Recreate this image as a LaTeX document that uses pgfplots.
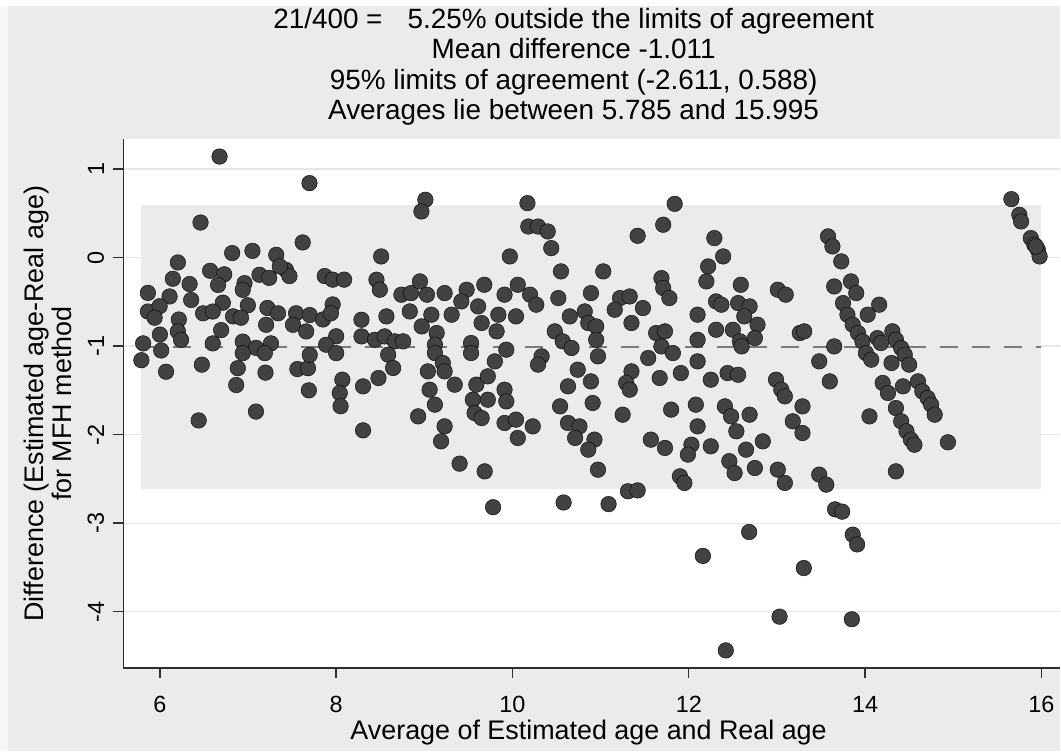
\documentclass[border=0pt]{standalone}
\usepackage{pgfplots}
\pgfplotsset{compat=1.18}
\usepackage{fontspec}
\setmainfont{Liberation Sans}
\definecolor{bgc}{HTML}{EBEBEB}
\definecolor{bandc}{HTML}{EBEBEB}
\definecolor{gridc}{HTML}{E6E6E6}
\definecolor{axc}{HTML}{2E2E2E}
\definecolor{dotc}{HTML}{424242}
\definecolor{dashc}{HTML}{7A7A7A}
\begin{document}
\begin{tikzpicture}[x=1bp,y=1bp]
\fill[bgc] (0,0) rectangle (1061,752);
\fill[white] (0,746) rectangle (1061,752);
\fill[white!60!bgc] (0,0) rectangle (8,746);
\begin{axis}[
  at={(123.3bp,83.7bp)}, anchor=south west, scale only axis,
  width=937.7bp, height=529bp,
  xmin=5.584, xmax=16.215, ymin=-4.634, ymax=1.336,
  axis x line*=bottom, axis y line*=left,
  axis line style={draw=axc, line width=1.4bp, -},
  axis background/.style={fill=white},
  xtick={6,8,10,12,14,16}, xticklabels={6,8,10,12,14,16},
  ytick={-4,-3,-2,-1,0,1}, yticklabels={-4,-3,-2,-1,0,1},
  tick align=outside, major tick length=10bp,
  tick style={draw=axc, line width=1.4bp},
  ymajorgrids, grid style={draw=gridc, line width=1.2bp},
  ticklabel style={font=\fontsize{23.5}{28}\selectfont, text=black},
  yticklabel style={rotate=90, anchor=south, inner sep=0pt},
  xticklabel style={anchor=north, inner sep=0pt},
  xticklabel shift=18bp, yticklabel shift=9bp,
]
\addplot[draw=none, fill=bandc] coordinates {(5.785,-2.611) (15.995,-2.611) (15.995,0.588) (5.785,0.588)} -- cycle;
\addplot[dashc, line width=2bp, dash pattern=on 18bp off 14bp] coordinates {(5.785,-1.011) (15.995,-1.011)};
\addplot[only marks, mark=*, mark size=7.8bp, mark options={fill=dotc, draw=none}] coordinates {
(6.677,1.14) (7.697,0.84) (6.461,0.395) (7.62,0.17) (6.82,0.05) (7.05,0.075) (6.204,-0.056) (7.32,0.03)
(6.57,-0.15) (6.73,-0.19) (6.147,-0.24) (6.337,-0.30) (6.66,-0.31) (6.96,-0.29) (7.13,-0.195) (7.24,-0.23)
(7.43,-0.14) (7.47,-0.21) (7.36,-0.10) (7.87,-0.21) (7.96,-0.25) (8.09,-0.25) (5.864,-0.40) (6.11,-0.44)
(6.355,-0.48) (6.94,-0.365) (6.714,-0.51) (6.998,-0.54) (5.864,-0.61) (5.997,-0.55) (5.94,-0.68) (6.49,-0.63)
(6.60,-0.61) (6.215,-0.70) (6.83,-0.665) (6.92,-0.68) (7.22,-0.57) (7.34,-0.63) (7.205,-0.76) (7.545,-0.63)
(7.70,-0.65) (7.51,-0.76) (7.66,-0.835) (7.85,-0.70) (7.96,-0.53) (7.94,-0.63) (6.204,-0.835) (6.00,-0.87)
(6.695,-0.82) (6.24,-0.93) (5.81,-0.97) (6.60,-0.97) (6.94,-0.95) (7.09,-1.02) (7.26,-0.97) (6.94,-1.08)
(7.19,-1.08) (8.00,-0.89) (7.886,-0.985) (8.00,-1.08) (6.015,-1.05) (5.79,-1.16) (6.07,-1.29) (6.476,-1.21)
(6.884,-1.25) (7.198,-1.30) (7.56,-1.26) (7.68,-1.25) (7.70,-1.10) (6.866,-1.44) (7.69,-1.50) (8.07,-1.38)
(8.04,-1.53) (8.05,-1.68) (7.09,-1.74) (6.44,-1.84)
(9.012,0.652) (8.967,0.52) (10.17,0.614) (11.84,0.606) (11.71,0.37) (11.42,0.245) (10.18,0.35) (10.29,0.35)
(10.40,0.294) (10.44,0.106) (9.97,0.012) (8.51,0.012) (10.55,-0.157) (11.03,-0.157) (8.457,-0.251) (8.495,-0.364)
(8.74,-0.42) (8.85,-0.402) (8.95,-0.27) (9.03,-0.42) (9.23,-0.402) (9.48,-0.364) (9.68,-0.308) (9.42,-0.496)
(9.61,-0.552) (9.91,-0.42) (10.06,-0.308) (10.20,-0.42) (10.27,-0.533) (10.52,-0.458) (10.89,-0.402) (11.22,-0.458)
(11.33,-0.44) (11.16,-0.59) (11.48,-0.571) (11.69,-0.233) (11.71,-0.345) (11.78,-0.458) (12.10,-0.646) (8.287,-0.703)
(8.57,-0.665) (8.835,-0.609) (9.08,-0.646) (8.97,-0.778) (9.31,-0.646) (9.65,-0.74) (9.84,-0.646) (9.82,-0.834)
(10.04,-0.665) (10.65,-0.665) (10.82,-0.609) (10.86,-0.74) (10.95,-0.778) (11.35,-0.74) (8.287,-0.891) (8.44,-0.929)
(8.55,-0.891) (8.665,-0.947) (8.76,-0.947) (9.14,-0.853) (9.12,-0.985) (9.53,-0.966) (10.48,-0.834) (10.57,-0.947)
(10.67,-1.022) (10.95,-0.929) (11.63,-0.853) (11.73,-0.834) (11.69,-1.004) (11.82,-1.079) (12.10,-0.929) (8.59,-1.098)
(9.12,-1.079) (9.53,-1.079) (9.93,-1.041) (10.33,-1.116) (10.97,-1.116) (11.54,-1.135) (8.646,-1.248) (9.21,-1.192)
(9.23,-1.286) (9.80,-1.173) (10.29,-1.21) (10.74,-1.267) (12.10,-1.173) (8.305,-1.455) (8.48,-1.361) (9.04,-1.286)
(9.345,-1.436) (9.59,-1.436) (9.72,-1.342) (10.63,-1.455) (10.89,-1.399) (11.35,-1.286) (11.29,-1.417) (11.33,-1.493)
(11.67,-1.361) (11.91,-1.305) (9.06,-1.493) (9.55,-1.606) (9.72,-1.606) (9.91,-1.493) (9.93,-1.625) (9.12,-1.662)
(10.54,-1.681) (10.91,-1.643) (12.08,-1.662) (8.93,-1.794) (9.57,-1.756) (9.65,-1.813) (9.23,-1.907) (9.91,-1.869)
(10.04,-1.831) (10.23,-1.907) (10.63,-1.869) (10.76,-1.907) (11.25,-1.775) (11.80,-1.718) (8.305,-1.952) (9.19,-2.076)
(10.06,-2.038) (10.71,-2.038) (10.93,-2.057) (10.86,-2.17) (11.57,-2.057) (11.73,-2.151) (12.03,-2.114) (11.99,-2.226)
(9.40,-2.328) (9.685,-2.415) (10.97,-2.396) (11.90,-2.471) (11.95,-2.546) (11.31,-2.64) (11.42,-2.63)
(12.29,0.219) (12.39,0.012) (12.22,-0.101) (12.20,-0.27) (12.31,-0.496) (12.37,-0.533) (12.59,-0.308) (12.56,-0.515)
(12.69,-0.552) (12.63,-0.665) (12.78,-0.759) (12.75,-0.91) (12.50,-0.816) (12.58,-0.947) (12.60,-1.004) (12.31,-0.816)
(12.25,-1.38) (12.44,-1.305) (12.56,-1.324) (12.10,-1.907) (12.41,-1.681) (12.48,-1.794) (12.54,-1.963) (12.69,-1.775)
(12.25,-2.132) (12.46,-2.30) (12.52,-2.434) (12.65,-2.17) (12.75,-2.377) (12.84,-2.076) (13.01,-0.364) (13.10,-0.42)
(13.26,-0.853) (13.31,-0.834) (12.99,-1.38) (13.05,-1.493) (13.09,-1.568) (13.29,-1.681) (13.18,-1.85) (13.29,-1.982)
(13.01,-2.396) (13.09,-2.546) (13.48,-2.452) (13.56,-2.565) (13.58,0.238) (13.63,0.125) (13.73,-0.044) (13.65,-0.327)
(13.84,-0.27) (13.90,-0.402) (13.75,-0.515) (13.80,-0.646) (13.86,-0.759) (13.92,-0.853) (13.97,-0.947) (14.03,-0.646)
(14.16,-0.533) (13.65,-1.004) (13.48,-1.173) (13.60,-1.399) (14.01,-1.079) (14.07,-1.154) (14.14,-0.91) (14.18,-0.966)
(14.31,-0.834) (14.35,-0.929) (14.41,-1.023) (14.45,-1.098) (14.50,-1.21) (14.30,-1.192) (14.20,-1.417) (14.26,-1.53)
(14.43,-1.455) (14.60,-1.399) (14.65,-1.512) (14.71,-1.587) (14.75,-1.662) (14.79,-1.775) (14.05,-1.794) (14.35,-1.70)
(14.41,-1.85) (14.47,-1.963) (14.52,-2.057) (14.56,-2.114) (14.94,-2.087) (14.35,-2.415)
(15.66,0.659) (15.75,0.482) (15.77,0.407) (15.88,0.219) (15.92,0.144) (15.96,0.087) (15.98,0.012) (15.94,0.125)
(9.78,-2.82) (10.58,-2.767) (11.09,-2.785) (12.16,-3.37) (12.685,-3.10) (12.42,-4.437) (13.03,-4.056) (13.305,-3.507)
(13.66,-2.844) (13.74,-2.87) (13.86,-3.13) (13.91,-3.24) (13.85,-4.085)
};
\end{axis}
\begin{scope}[every node/.style={font=\fontsize{28}{30}\selectfont, inner sep=0pt}]
\node[anchor=base] at (574,723.7) {21/400 =\hspace{25bp}5.25\% outside the limits of agreement};
\node[anchor=base] at (574,693.3) {Mean difference -1.011};
\node[anchor=base] at (574,662.8) {95\% limits of agreement (-2.611, 0.588)};
\node[anchor=base] at (574,632.3) {Averages lie between 5.785 and 15.995};
\end{scope}
\begin{scope}[every node/.style={font=\fontsize{27}{30}\selectfont, inner sep=0pt}]
\node[anchor=base] at (589,12) {Average of Estimated age and Real age};
\node[anchor=base, rotate=90] at (43.3,348) {Difference (Estimated age-Real age)};
\node[anchor=base, rotate=90] at (71.7,348) {for MFH method};
\end{scope}
\end{tikzpicture}
\end{document}
